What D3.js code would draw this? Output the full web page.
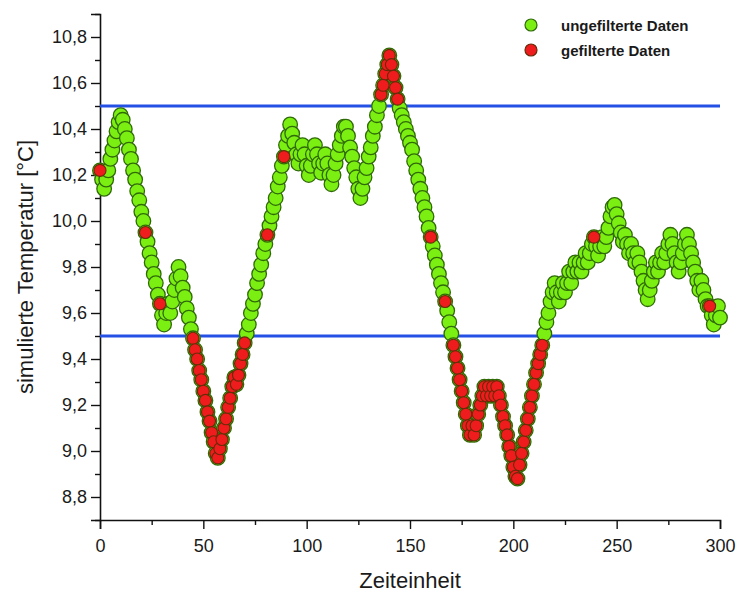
<!DOCTYPE html>
<html>
<head>
<meta charset="utf-8">
<script src="https://cdn.jsdelivr.net/npm/d3@7"></script>
<style>
  html, body { margin: 0; padding: 0; background: #fff; }
  svg { display: block; }
  text { font-family: "Liberation Sans", Arial, sans-serif; fill: #1a1a1a; }
</style>
</head>
<body>
<svg id="chart" width="736" height="596"></svg>
<script>
// Simulated temperature, one reading per time unit (t = 0 … 300)
const temperature = [
  10.22, 10.18, 10.14, 10.18, 10.22, 10.27, 10.31, 10.35, 10.39, 10.43,
  10.46, 10.44, 10.40, 10.36, 10.31, 10.27, 10.22, 10.18, 10.13, 10.09,
  10.04, 10.00, 9.95, 9.91, 9.86, 9.82, 9.77, 9.73, 9.68, 9.64,
  9.59, 9.55, 9.60, 9.64, 9.60, 9.65, 9.70, 9.75, 9.80, 9.76,
  9.71, 9.67, 9.62, 9.58, 9.53, 9.49, 9.44, 9.40, 9.35, 9.31,
  9.26, 9.22, 9.17, 9.13, 9.08, 9.04, 8.99, 8.97, 9.01, 9.05,
  9.10, 9.14, 9.19, 9.23, 9.28, 9.32, 9.29, 9.33, 9.38, 9.42,
  9.47, 9.51, 9.55, 9.60, 9.64, 9.68, 9.73, 9.77, 9.81, 9.86,
  9.90, 9.94, 9.98, 10.02, 10.06, 10.10, 10.15, 10.19, 10.24, 10.28,
  10.33, 10.37, 10.42, 10.38, 10.34, 10.29, 10.25, 10.29, 10.33, 10.29,
  10.24, 10.20, 10.24, 10.29, 10.33, 10.29, 10.25, 10.21, 10.25, 10.29,
  10.25, 10.20, 10.16, 10.20, 10.25, 10.29, 10.33, 10.37, 10.41, 10.41,
  10.37, 10.32, 10.28, 10.23, 10.19, 10.14, 10.10, 10.14, 10.19, 10.23,
  10.28, 10.32, 10.37, 10.41, 10.46, 10.50, 10.55, 10.59, 10.64, 10.68,
  10.72, 10.68, 10.63, 10.58, 10.53, 10.49, 10.46, 10.43, 10.40, 10.37,
  10.34, 10.31, 10.26, 10.22, 10.18, 10.14, 10.10, 10.06, 10.02, 9.97,
  9.93, 9.89, 9.85, 9.81, 9.77, 9.73, 9.69, 9.65, 9.61, 9.56,
  9.51, 9.46, 9.41, 9.36, 9.31, 9.26, 9.21, 9.16, 9.11, 9.07,
  9.11, 9.07, 9.11, 9.16, 9.20, 9.24, 9.28, 9.24, 9.28, 9.24,
  9.28, 9.24, 9.28, 9.24, 9.20, 9.15, 9.11, 9.07, 9.02, 8.98,
  8.93, 8.89, 8.88, 8.94, 8.99, 9.04, 9.09, 9.14, 9.19, 9.24,
  9.29, 9.34, 9.38, 9.42, 9.46, 9.51, 9.56, 9.60, 9.65, 9.69,
  9.73, 9.69, 9.65, 9.69, 9.73, 9.69, 9.73, 9.78, 9.73, 9.78,
  9.82, 9.78, 9.82, 9.78, 9.82, 9.86, 9.82, 9.86, 9.90, 9.93,
  9.89, 9.85, 9.89, 9.93, 9.89, 9.93, 9.97, 10.02, 10.06, 10.07,
  10.03, 9.99, 9.95, 9.91, 9.94, 9.90, 9.86, 9.90, 9.86, 9.82,
  9.86, 9.82, 9.78, 9.74, 9.70, 9.66, 9.70, 9.74, 9.78, 9.82,
  9.78, 9.82, 9.86, 9.82, 9.86, 9.90, 9.94, 9.90, 9.86, 9.82,
  9.78, 9.82, 9.86, 9.90, 9.94, 9.90, 9.86, 9.82, 9.78, 9.74,
  9.70, 9.74, 9.70, 9.66, 9.63, 9.63, 9.59, 9.55, 9.59, 9.63,
  9.58
];

// Band limits of the filter
const lowerLimit = 9.5;
const upperLimit = 10.5;

// Reference samples kept by the filter inside the band
const sampleTimes = [0, 22, 29, 81, 89, 160, 167, 239, 295];

// Axis ticks
const xTicks = [0, 50, 100, 150, 200, 250, 300];
const xMinorTicks = [25, 75, 125, 175, 225, 275];
const yTicks = [8.8, 9.0, 9.2, 9.4, 9.6, 9.8, 10.0, 10.2, 10.4, 10.6, 10.8];
const yMinorTicks = [8.7, 8.9, 9.1, 9.3, 9.5, 9.7, 9.9, 10.1, 10.3, 10.5, 10.7, 10.9];

const legendLabels = ["ungefilterte Daten", "gefilterte Daten"];
const xTitle = "Zeiteinheit";
const yTitle = "simulierte Temperatur [°C]";

const unfiltered = temperature.map((v, t) => ({ t, v }));
const filtered = unfiltered.filter(d =>
  d.v > upperLimit || d.v < lowerLimit || sampleTimes.includes(d.t));

const margin = { top: 14, right: 16, bottom: 76, left: 100 };
const width = 736, height = 596;
const svg = d3.select("#chart");

const x = d3.scaleLinear().domain([0, 300]).range([margin.left, width - margin.right]);
const y = d3.scaleLinear().domain([8.7, 10.9]).range([height - margin.bottom, margin.top]);

const fmt = d => d3.format(".1f")(d).replace(".", ",");

// Axes
const xAxis = svg.append("g").attr("transform", `translate(0,${y(8.7)})`)
  .call(d3.axisBottom(x).tickValues(xTicks).tickSize(9).tickPadding(10).tickFormat(d3.format("d")));
const xMinor = svg.append("g").attr("transform", `translate(0,${y(8.7)})`)
  .call(d3.axisBottom(x).tickValues(xMinorTicks).tickSize(5).tickFormat(""));
const yAxis = svg.append("g").attr("transform", `translate(${x(0)},0)`)
  .call(d3.axisLeft(y).tickValues(yTicks).tickSize(9).tickPadding(4).tickFormat(fmt));
const yMinor = svg.append("g").attr("transform", `translate(${x(0)},0)`)
  .call(d3.axisLeft(y).tickValues(yMinorTicks).tickSize(5).tickFormat(""));

[xAxis, xMinor, yAxis, yMinor].forEach(g => {
  g.select(".domain").attr("stroke", "#111").attr("stroke-width", 1.6);
  g.selectAll(".tick line").attr("stroke", "#111").attr("stroke-width", 1.4);
  g.selectAll(".tick text").attr("font-size", 18).attr("fill", "#1a1a1a")
    .attr("font-family", "'Liberation Sans', Arial, sans-serif");
});
xMinor.select(".domain").remove();
yMinor.select(".domain").remove();

// Filter band limits
svg.append("g").selectAll("line").data([upperLimit, lowerLimit]).join("line")
  .attr("x1", x(0)).attr("x2", x(300))
  .attr("y1", d => y(d)).attr("y2", d => y(d))
  .attr("stroke", "#2550e6").attr("stroke-width", 3);

// Unfiltered readings
svg.append("g").selectAll("circle").data(unfiltered).join("circle")
  .attr("cx", d => x(d.t)).attr("cy", d => y(d.v)).attr("r", 7.3)
  .attr("fill", "#7cef12").attr("stroke", "#2f6a08").attr("stroke-width", 1.3);

// Filtered readings
svg.append("g").selectAll("circle").data(filtered).join("circle")
  .attr("cx", d => x(d.t)).attr("cy", d => y(d.v)).attr("r", 6)
  .attr("fill", "#ee1c1c").attr("stroke", "#6a2a08").attr("stroke-width", 1.1);

// Axis titles
svg.append("text").attr("x", x(150)).attr("y", 588)
  .attr("text-anchor", "middle").attr("font-size", 22).text(xTitle);
svg.append("text").attr("transform", `translate(33,${y(9.8)}) rotate(-90)`)
  .attr("text-anchor", "middle").attr("font-size", 22).text(yTitle);

// Legend
const legend = svg.append("g");
const legendColors = [["#7cef12", "#2f6a08"], ["#ee1c1c", "#6a2a08"]];
legendLabels.forEach((lab, i) => {
  const ly = 25 + i * 25;
  legend.append("circle").attr("cx", 531).attr("cy", ly).attr("r", 6)
    .attr("fill", legendColors[i][0]).attr("stroke", legendColors[i][1]).attr("stroke-width", 1.2);
  legend.append("text").attr("x", 561).attr("y", ly + 5.5)
    .attr("font-size", 15).attr("font-weight", "bold").text(lab);
});
</script>
</body>
</html>
